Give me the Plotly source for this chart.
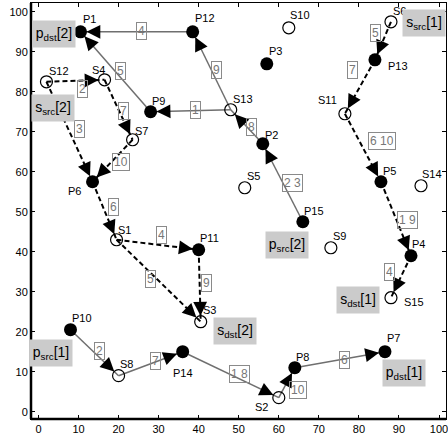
import math
import plotly.graph_objects as go

# ---- node data -------------------------------------------------------------
p_names = ["P1", "P2", "P3", "P4", "P5", "P6", "P7", "P8", "P9", "P10",
           "P11", "P12", "P13", "P14", "P15"]
p_x = [10.5, 56, 57, 93, 85.5, 13.5, 86.5, 64, 28, 8, 40, 38.5, 84, 36, 66]
p_y = [95, 67, 87, 39, 57.5, 57.5, 15, 11, 75, 20.5, 40.5, 95, 88, 15, 47.5]

s_names = ["S1", "S2", "S3", "S4", "S5", "S6", "S7", "S8", "S9", "S10",
           "S11", "S12", "S13", "S14", "S15"]
s_x = [19.5, 60, 40.5, 16.5, 51.5, 88, 23.5, 20, 73, 62.5, 76.5, 2, 48, 95.5, 88]
s_y = [43, 3.5, 22.5, 83, 56, 97.5, 68, 9, 41, 96, 74.5, 82.5, 75.5, 56.5, 28.5]

# ---- links (from, to, slot label) -------------------------------------------
solid_from = ["P12", "P9", "S13", "S13", "P2", "P15", "P10", "S8", "P14", "S2", "P8"]
solid_to = ["P1", "P1", "P9", "P12", "S13", "P2", "S8", "P14", "S2", "P8", "P7"]
solid_text = ["4", "5", "1", "9", "8", "2 3", "2", "7", "1 8", "10", "6"]

dashed_from = ["S12", "S12", "S4", "S7", "P6", "S1", "S1", "P11",
               "S6", "P13", "S11", "P5", "P4"]
dashed_to = ["S4", "P6", "S7", "P6", "S1", "P11", "S3", "S3",
             "P13", "S11", "P5", "P4", "S15"]
dashed_text = ["2", "3", "7", "10", "6", "4", "5", "9",
               "5", "7", "6 10", "1 9", "4"]

# ---- source / destination tags -----------------------------------------------
role_nodes = ["P1", "S12", "S6", "P15", "S15", "S3", "P10", "P7"]
role_text = ["p<sub>dst</sub>[2]", "s<sub>src</sub>[2]", "s<sub>src</sub>[1]",
             "p<sub>src</sub>[2]", "s<sub>dst</sub>[1]", "s<sub>dst</sub>[2]",
             "p<sub>src</sub>[1]", "p<sub>dst</sub>[1]"]

# ---- placement of text (pixel offsets, +dy = down) --------------------------
node_label_off = {
    "P1": (9, -12.7), "P2": (8.6, -9), "P3": (8.3, -13.2), "P4": (7.2, -11.4),
    "P5": (8.2, -10.4), "P6": (-17.8, 8.8), "P7": (9, -13.4), "P8": (8, -10.7),
    "P9": (8, -10.4), "P10": (11.8, -11.7), "P11": (10.5, -11.7),
    "P12": (12.3, -13.7), "P13": (22.6, 5.8), "P14": (0.8, 21.6),
    "P15": (11.6, -10.4),
    "S1": (8, -9.7), "S2": (-17.5, 9.8), "S3": (9.3, -12.2), "S4": (-6, -10.2),
    "S5": (8.4, -11.4), "S6": (9, -11.2), "S7": (8.6, -9.2), "S8": (7.7, -11.2),
    "S9": (8.5, -12.2), "S10": (11, -13.2), "S11": (-17.2, -13.7),
    "S12": (12.5, -11.2), "S13": (12.5, -11), "S14": (11.3, -12),
    "S15": (23, 4),
}
solid_label_style = [("left", -0.5, -1), ("left", -0.3, -0.5), ("left", -0.5, -0.7),
                     ("left", -0.5, -1), ("left", -0.5, 0), ("left", -1, 0),
                     ("left", -0.6, -2), ("left", -0.5, -3), ("left", -1.7, -1),
                     ("left", 2, 7), ("left", -0.7, 0)]
dashed_label_style = [("left", 1, 8.5), ("left", 4.3, -2.5), ("left", -0.7, 0.8),
                      ("left", -0.3, 1.6), ("left", 3.4, -4), ("left", -1.5, -9.5),
                      ("right", -3, -1.7), ("left", 1.2, -2.4), ("right", -2, -7.7),
                      ("right", -1.5, -16.7), ("left", 5.5, -6.7), ("left", 1.3, 1.3),
                      ("right", -5.8, -5.2)]
role_off = [(-26.8, 2.3), (6.5, 25.8), (33.3, 1.3), (-16, 23.3),
            (-32.7, 2.3), (34.5, 9.3), (-19.2, 22.8), (18.8, 20.8)]

# ---- geometry ---------------------------------------------------------------
W, H = 448, 437
M_L, M_R, M_T, M_B = 31, 0, 3, 18
X_RANGE = [-1.86, 101.74]
Y_RANGE = [-1.83, 102.2]
KX = (W - M_L - M_R) / (X_RANGE[1] - X_RANGE[0])
KY = (H - M_T - M_B) / (Y_RANGE[1] - Y_RANGE[0])

pos = {}
for n, x, y in zip(p_names, p_x, p_y):
    pos[n] = (x, y)
for n, x, y in zip(s_names, s_x, s_y):
    pos[n] = (x, y)

FONT = "Liberation Sans, Arial, Helvetica, sans-serif"
LINE_GRAY = "#6f6f6f"

fig = go.Figure()
annotations = []


def add_links(froms, tos, texts, styles, dashed):
    for a, b, t, (anchor, dx, dy) in zip(froms, tos, texts, styles):
        (x0, y0), (x1, y1) = pos[a], pos[b]
        fig.add_trace(go.Scatter(
            x=[x0, x1], y=[y0, y1], mode="lines", hoverinfo="skip",
            line=dict(color="black" if dashed else LINE_GRAY,
                      width=2 if dashed else 1.5,
                      dash="5px,3px" if dashed else "solid"),
            showlegend=False))
        # arrow head at the receiving node
        vx, vy = (x0 - x1) * KX, (y0 - y1) * KY
        ln = math.hypot(vx, vy)
        back = 16
        annotations.append(dict(
            x=x1, y=y1, ax=x1 + vx / ln * back / KX, ay=y1 + vy / ln * back / KY,
            xref="x", yref="y", axref="x", ayref="y", text="", showarrow=True,
            arrowhead=2, arrowsize=1.15, arrowwidth=2.4, arrowcolor="black",
            standoff=6))
        # slot label at the link midpoint
        annotations.append(dict(
            x=(x0 + x1) / 2, y=(y0 + y1) / 2, xref="x", yref="y", text=t,
            showarrow=False, xanchor=anchor, yanchor="middle",
            xshift=dx, yshift=-dy, height=14,
            font=dict(family=FONT, size=12, color="#777777"),
            bordercolor="#8a8a8a", borderwidth=1, borderpad=1))


add_links(solid_from, solid_to, solid_text, solid_label_style, dashed=False)
add_links(dashed_from, dashed_to, dashed_text, dashed_label_style, dashed=True)

fig.add_trace(go.Scatter(
    x=s_x, y=s_y, mode="markers", hoverinfo="skip", showlegend=False,
    marker=dict(symbol="circle-open", size=12, color="black",
                line=dict(width=1.2, color="black"))))
fig.add_trace(go.Scatter(
    x=p_x, y=p_y, mode="markers", hoverinfo="skip", showlegend=False,
    marker=dict(symbol="circle", size=13, color="black",
                line=dict(width=0))))

for n, (dx, dy) in node_label_off.items():
    x, y = pos[n]
    annotations.append(dict(
        x=x, y=y, xref="x", yref="y", text=n, showarrow=False,
        xanchor="center", yanchor="middle", xshift=dx, yshift=-dy,
        font=dict(family=FONT, size=11, color="black")))

for n, t, (dx, dy) in zip(role_nodes, role_text, role_off):
    x, y = pos[n]
    annotations.append(dict(
        x=x, y=y, xref="x", yref="y", text=t, showarrow=False,
        xanchor="center", yanchor="middle", xshift=dx, yshift=-dy,
        width=42, height=26, align="center", valign="middle",
        font=dict(family=FONT, size=14, color="black"),
        bgcolor="#cbcbcb", borderpad=0))

axis_common = dict(
    showgrid=False, zeroline=False, showline=True, linecolor="black",
    linewidth=1, mirror="ticks", ticks="inside", ticklen=4, tickcolor="black",
    tickfont=dict(family=FONT, size=11, color="black"), dtick=10, tick0=0,
    ticklabeloverflow="allow")

fig.update_layout(
    width=W, height=H,
    margin=dict(l=M_L, r=M_R, t=M_T, b=M_B, pad=0),
    paper_bgcolor="white", plot_bgcolor="white",
    xaxis=dict(range=X_RANGE, **axis_common),
    yaxis=dict(range=Y_RANGE, **axis_common),
    annotations=annotations,
    shapes=[
        dict(type="line", xref="paper", yref="paper", x0=0, x1=0, y0=0, y1=1,
             line=dict(color="black", width=2.5)),
        dict(type="line", xref="paper", yref="paper", x0=0, x1=1, y0=0, y1=0,
             line=dict(color="black", width=2.5)),
    ],
)

fig.write_html("out.html")
